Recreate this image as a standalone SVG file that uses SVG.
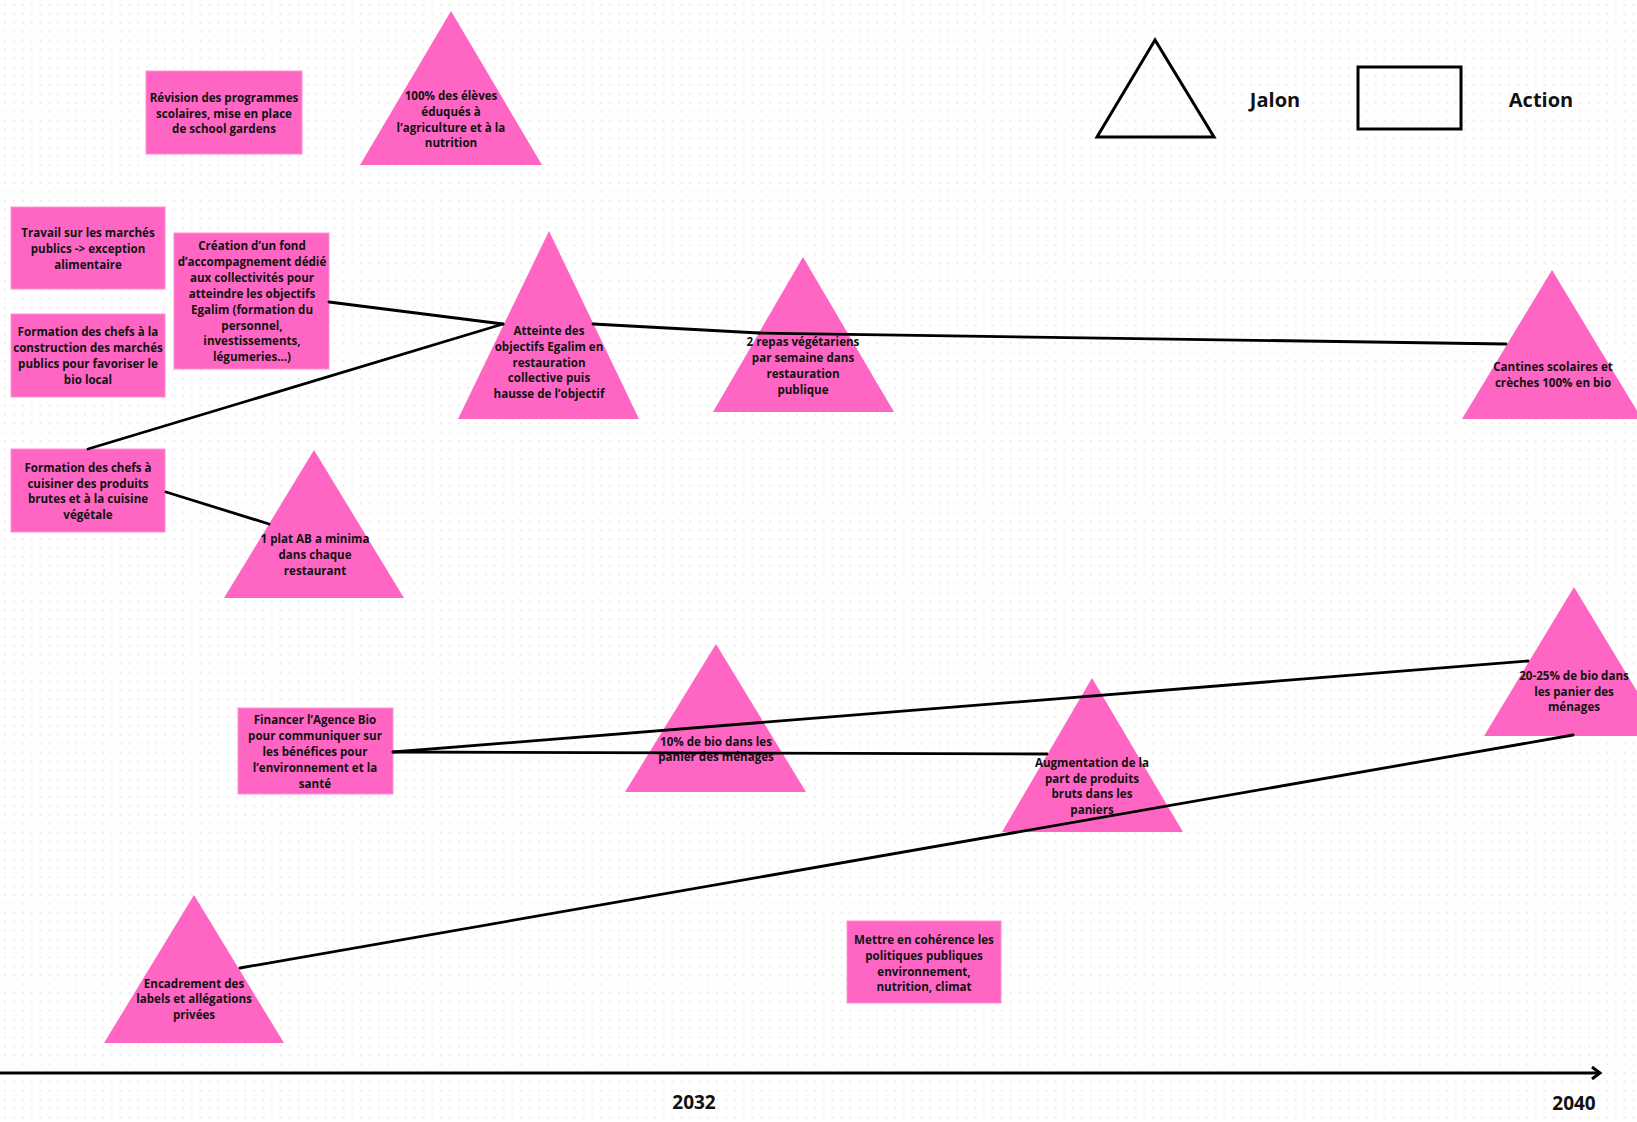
<svg xmlns="http://www.w3.org/2000/svg" width="1637" height="1122" viewBox="0 0 1637 1122">
<defs>
<pattern id="dots" x="4" y="4" width="8.9" height="8.9" patternUnits="userSpaceOnUse">
<circle cx="1" cy="1" r="0.75" fill="#d4d5dc"/>
</pattern>
<marker id="chev" markerWidth="14" markerHeight="14" refX="10" refY="7" orient="auto" markerUnits="userSpaceOnUse">
<path d="M2,1 L10,7 L2,13" fill="none" stroke="#000" stroke-width="3"/>
</marker>
<style>
.act{fill:#ff66c4;stroke:#ff8fd2;stroke-width:1}
.jal{fill:#ff66c4}
.t{font-family:"Open Sans","Liberation Sans",sans-serif;font-weight:700;font-size:11.6px;fill:#111;text-anchor:middle}
.lg{font-family:"Open Sans","Liberation Sans",sans-serif;font-weight:700;font-size:20px;fill:#111;text-anchor:middle}
.yr{font-family:"Open Sans","Liberation Sans",sans-serif;font-weight:700;font-size:19px;fill:#111;text-anchor:middle}
.con{stroke:#000;stroke-width:2.8;fill:none;stroke-linecap:round}
.leg{fill:none;stroke:#000;stroke-width:3}
</style>
</defs>
<rect width="1637" height="1122" fill="#fff"/>
<rect width="1637" height="1122" fill="url(#dots)"/>

<g id="legend">
<polygon class="leg" points="1155,40 1097,137 1214,137"/>
<text class="lg" x="1275" y="107">Jalon</text>
<rect class="leg" x="1358" y="67" width="103" height="62"/>
<text class="lg" x="1541" y="107">Action</text>
</g>

<g id="axis">
<line x1="0" y1="1073" x2="1600" y2="1073" stroke="#000" stroke-width="3" marker-end="url(#chev)"/>
<text class="yr" x="694" y="1109">2032</text>
<text class="yr" x="1574" y="1110">2040</text>
</g>

<g id="n-revision">
<rect class="act" x="146" y="71" width="156" height="83"/>
<text class="t"><tspan x="224" y="102">Révision des programmes</tspan><tspan x="224" y="117.5">scolaires, mise en place</tspan><tspan x="224" y="133">de school gardens</tspan></text>
</g>

<g id="n-eleves">
<polygon class="jal" points="451,11 360,165 542,165"/>
<text class="t"><tspan x="451" y="100">100% des élèves</tspan><tspan x="451" y="116">éduqués à</tspan><tspan x="451" y="132">l’agriculture et à la</tspan><tspan x="451" y="147">nutrition</tspan></text>
</g>

<g id="n-travail">
<rect class="act" x="11" y="207" width="154" height="82"/>
<text class="t"><tspan x="88" y="237">Travail sur les marchés</tspan><tspan x="88" y="253">publics -&gt; exception</tspan><tspan x="88" y="269">alimentaire</tspan></text>
</g>

<g id="n-formation-marches">
<rect class="act" x="11" y="314" width="154" height="83"/>
<text class="t"><tspan x="88" y="336">Formation des chefs à la</tspan><tspan x="88" y="352">construction des marchés</tspan><tspan x="88" y="368">publics pour favoriser le</tspan><tspan x="88" y="384">bio local</tspan></text>
</g>

<g id="n-creation">
<rect class="act" x="174" y="233" width="155" height="136"/>
<text class="t"><tspan x="252" y="250">Création d’un fond</tspan><tspan x="252" y="266">d’accompagnement dédié</tspan><tspan x="252" y="282">aux collectivités pour</tspan><tspan x="252" y="298">atteindre les objectifs</tspan><tspan x="252" y="314">Egalim (formation du</tspan><tspan x="252" y="330">personnel,</tspan><tspan x="252" y="345">investissements,</tspan><tspan x="252" y="361">légumeries…)</tspan></text>
</g>

<g id="n-formation-cuisine">
<rect class="act" x="11" y="449" width="154" height="83"/>
<text class="t"><tspan x="88" y="472">Formation des chefs à</tspan><tspan x="88" y="488">cuisiner des produits</tspan><tspan x="88" y="503">brutes et à la cuisine</tspan><tspan x="88" y="519">végétale</tspan></text>
</g>

<g id="n-egalim">
<polygon class="jal" points="549,231 458,419 639,419"/>
<text class="t"><tspan x="549" y="335">Atteinte des</tspan><tspan x="549" y="351">objectifs Egalim en</tspan><tspan x="549" y="367">restauration</tspan><tspan x="549" y="382">collective puis</tspan><tspan x="549" y="398">hausse de l’objectif</tspan></text>
</g>

<g id="n-repas">
<polygon class="jal" points="803,257 713,412 894,412"/>
<text class="t"><tspan x="803" y="346">2 repas végétariens</tspan><tspan x="803" y="362">par semaine dans</tspan><tspan x="803" y="378">restauration</tspan><tspan x="803" y="394">publique</tspan></text>
</g>

<g id="n-cantines">
<polygon class="jal" points="1552,270 1462,419 1642,419"/>
<text class="t"><tspan x="1553" y="371">Cantines scolaires et</tspan><tspan x="1553" y="387">crèches 100% en bio</tspan></text>
</g>

<g id="n-plat">
<polygon class="jal" points="314,450 224,598 404,598"/>
<text class="t"><tspan x="315" y="543">1 plat AB a minima</tspan><tspan x="315" y="559">dans chaque</tspan><tspan x="315" y="575">restaurant</tspan></text>
</g>

<g id="n-financer">
<rect class="act" x="238" y="708" width="155" height="86"/>
<text class="t"><tspan x="315" y="724">Financer l’Agence Bio</tspan><tspan x="315" y="740">pour communiquer sur</tspan><tspan x="315" y="756">les bénéfices pour</tspan><tspan x="315" y="772">l’environnement et la</tspan><tspan x="315" y="788">santé</tspan></text>
</g>

<g id="n-bio10">
<polygon class="jal" points="716,644 625,792 806,792"/>
<text class="t"><tspan x="716" y="746">10% de bio dans les</tspan><tspan x="716" y="761">panier des ménages</tspan></text>
</g>

<g id="n-augmentation">
<polygon class="jal" points="1092,678 1002,832 1183,832"/>
<text class="t"><tspan x="1092" y="767">Augmentation de la</tspan><tspan x="1092" y="783">part de produits</tspan><tspan x="1092" y="798">bruts dans les</tspan><tspan x="1092" y="814">paniers</tspan></text>
</g>

<g id="n-bio20">
<polygon class="jal" points="1574,587 1484,736 1664,736"/>
<text class="t"><tspan x="1574" y="680">20-25% de bio dans</tspan><tspan x="1574" y="696">les panier des</tspan><tspan x="1574" y="711">ménages</tspan></text>
</g>

<g id="n-encadrement">
<polygon class="jal" points="194,895 104,1043 284,1043"/>
<text class="t"><tspan x="194" y="988">Encadrement des</tspan><tspan x="194" y="1003">labels et allégations</tspan><tspan x="194" y="1019">privées</tspan></text>
</g>

<g id="n-mettre">
<rect class="act" x="847" y="921" width="154" height="82"/>
<text class="t"><tspan x="924" y="944">Mettre en cohérence les</tspan><tspan x="924" y="960">politiques publiques</tspan><tspan x="924" y="976">environnement,</tspan><tspan x="924" y="991">nutrition, climat</tspan></text>
</g>

<g id="connectors">
<line class="con" x1="329" y1="302" x2="503" y2="324"/>
<line class="con" x1="88" y1="449" x2="503" y2="324"/>
<line class="con" x1="593" y1="324" x2="759" y2="333"/>
<line class="con" x1="759" y1="333" x2="1506" y2="344"/>
<line class="con" x1="166" y1="492" x2="269" y2="524"/>
<line class="con" x1="393" y1="752" x2="1528" y2="661"/>
<line class="con" x1="393" y1="752" x2="1047" y2="754"/>
<line class="con" x1="240" y1="968" x2="1573" y2="735"/>
</g>
</svg>
